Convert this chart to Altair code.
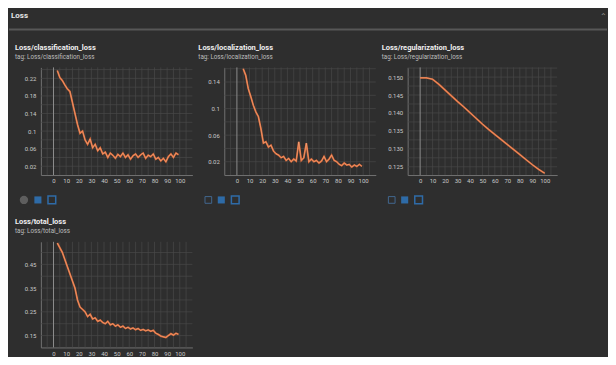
import altair as alt
import pandas as pd

# ---------------- data ----------------
cls_steps = [3, 5, 7, 9, 11, 13, 15, 17, 19, 21, 23, 25, 27, 29, 31, 33, 35, 37, 39, 41, 43, 45, 47, 49, 51,
             53, 55, 57, 59, 61, 63, 65, 67, 69, 71, 73, 75, 77, 79, 81, 83, 85, 87, 89, 91, 93, 95, 97, 99]
cls_loss = [0.238, 0.222, 0.215, 0.205, 0.196, 0.19, 0.165, 0.14, 0.115, 0.095, 0.1, 0.08, 0.07, 0.082, 0.062,
            0.07, 0.055, 0.062, 0.048, 0.052, 0.04, 0.05, 0.045, 0.038, 0.047, 0.042, 0.05, 0.04, 0.046, 0.036,
            0.044, 0.048, 0.04, 0.046, 0.05, 0.038, 0.045, 0.042, 0.048, 0.036, 0.04, 0.032, 0.038, 0.03, 0.042,
            0.048, 0.04, 0.05, 0.046]

loc_steps = [5, 7, 9, 11, 13, 15, 17, 19, 21, 23, 25, 27, 29, 31, 33, 35, 37, 39, 41, 43, 45, 47, 49, 51,
             53, 55, 57, 59, 61, 63, 65, 67, 69, 71, 73, 75, 77, 79, 81, 83, 85, 87, 89, 91, 93, 95, 97, 99]
loc_loss = [0.16, 0.15, 0.13, 0.118, 0.105, 0.095, 0.088, 0.07, 0.048, 0.05, 0.042, 0.045, 0.036, 0.032, 0.03,
            0.026, 0.028, 0.022, 0.025, 0.02, 0.024, 0.021, 0.05, 0.022, 0.026, 0.048, 0.02, 0.024, 0.02, 0.022,
            0.018, 0.021, 0.028, 0.02, 0.024, 0.03, 0.022, 0.02, 0.016, 0.014, 0.018, 0.015, 0.016, 0.012, 0.015,
            0.013, 0.016, 0.013]

reg_steps = [0, 5, 10, 15, 20, 25, 30, 35, 40, 45, 50, 55, 60, 65, 70, 75, 80, 85, 90, 95, 100]
reg_loss = [0.1498, 0.1498, 0.1494, 0.1480, 0.1464, 0.1448, 0.1432, 0.1417, 0.1401, 0.1385, 0.1369, 0.1354,
            0.1340, 0.1326, 0.1312, 0.1298, 0.1284, 0.1270, 0.1256, 0.1243, 0.1232]

tot_steps = cls_steps
tot_loss = [0.54, 0.52, 0.5, 0.47, 0.44, 0.41, 0.38, 0.35, 0.3, 0.27, 0.26, 0.25, 0.23, 0.24, 0.22, 0.225, 0.21,
            0.215, 0.205, 0.2, 0.21, 0.195, 0.2, 0.19, 0.195, 0.185, 0.19, 0.18, 0.185, 0.178, 0.182, 0.175, 0.18,
            0.172, 0.176, 0.17, 0.174, 0.168, 0.172, 0.16, 0.155, 0.148, 0.145, 0.142, 0.15, 0.158, 0.152, 0.16,
            0.155]

x_ticks = [0, 10, 20, 30, 40, 50, 60, 70, 80, 90, 100]
x_grid = [-5, 5, 10, 15, 20, 25, 30, 35, 40, 45, 50, 55, 60, 65, 70, 75, 80, 85, 90, 95, 100, 105]
cls_ticks = [0.02, 0.06, 0.1, 0.14, 0.18, 0.22]
cls_grid = [0.02, 0.04, 0.06, 0.08, 0.1, 0.12, 0.14, 0.16, 0.18, 0.2, 0.22, 0.24]
loc_ticks = [0.02, 0.06, 0.1, 0.14]
loc_grid = [0.02, 0.04, 0.06, 0.08, 0.1, 0.12, 0.14, 0.16]
reg_ticks = [0.125, 0.130, 0.135, 0.140, 0.145, 0.150]
reg_grid = [0.1250, 0.1275, 0.1300, 0.1325, 0.1350, 0.1375, 0.1400, 0.1425, 0.1450, 0.1475, 0.1500, 0.1525]
tot_ticks = [0.15, 0.25, 0.35, 0.45]
tot_grid = [0.15, 0.2, 0.25, 0.3, 0.35, 0.4, 0.45, 0.5]

BG = "#2e2e2e"
LINE = "#ee7038"
GRID = "#484848"
TXT = "#c8c8c8"
FONT = "Roboto"


def panel(steps, vals, ydom, yticks, ygrid, yfmt, w, h, title, icons=None, header=False, ty=-19):
    df = pd.DataFrame({"step": steps, "value": vals})
    xs = alt.Scale(domain=[-10, 110], nice=False, zero=False)
    ys = alt.Scale(domain=ydom, nice=False, zero=False)
    xax = alt.Axis(values=x_ticks, title=None, grid=False, labelFontSize=6, labelColor=TXT,
                   labelPadding=3, tickSize=0, labelOverlap=False, labelFlush=False,
                   domainColor="#707070", labelFont=FONT)
    yax = alt.Axis(values=yticks, title=None, grid=False, format=yfmt, labelFontSize=6,
                   labelColor=TXT, labelOverlap=False, labelFlush=False, labelPadding=5, tickSize=0,
                   domainColor="#707070", labelFont=FONT)
    X = alt.X("step:Q", scale=xs, axis=xax)
    Y = alt.Y("value:Q", scale=ys, axis=yax)
    base = alt.Chart(df)
    raw = base.mark_line(color=LINE, strokeWidth=1.8, opacity=0.9).encode(x=X, y=Y)
    hi = base.mark_line(color="#f9c2a2", strokeWidth=0.6, opacity=0.7).encode(x=X, y=Y)
    gx = alt.Chart(pd.DataFrame({"step": x_grid})).mark_rule(color=GRID, strokeWidth=0.7).encode(x=X)
    gy = alt.Chart(pd.DataFrame({"value": ygrid})).mark_rule(color=GRID, strokeWidth=0.7).encode(y=Y)
    zero = alt.Chart(pd.DataFrame({"step": [0]})).mark_rule(color="#8c8c8c", strokeWidth=1).encode(x=X)
    one = pd.DataFrame({"k": [0]})
    layers = []
    if header:
        # card header band, separator, "Loss" label, collapse icon
        layers.append(alt.Chart(one).mark_rect(color=BG).encode(
            x=alt.value(-32), x2=alt.value(568), y=alt.value(-59), y2=alt.value(-39)))
        layers.append(alt.Chart(one).mark_rule(color="#575757", strokeWidth=2).encode(
            x=alt.value(-32), x2=alt.value(568), y=alt.value(-38)))
        layers.append(alt.Chart(one).mark_text(align="left", baseline="middle", fontSize=8, font=FONT,
                                               fontWeight="bold", color="#e6e6e6").encode(
            text=alt.value("Loss"), x=alt.value(-30), y=alt.value(-52)))
        layers.append(alt.Chart(one).mark_text(align="center", baseline="middle", fontSize=8,
                                               color="#9a9a9a").encode(
            text=alt.value("⌃"), x=alt.value(564), y=alt.value(-51)))
    # panel title and tag line
    layers.append(alt.Chart(one).mark_text(align="left", baseline="middle", fontSize=7.5, font=FONT,
                                           fontWeight="bold", color="#f0f0f0").encode(
        text=alt.value(title), x=alt.value(-26), y=alt.value(ty)))
    layers.append(alt.Chart(one).mark_text(align="left", baseline="middle", fontSize=6.3, font=FONT,
                                           color="#bdbdbd").encode(
        text=alt.value("tag: " + title), x=alt.value(-26), y=alt.value(ty + 9)))
    layers += [gx, gy, zero, raw, hi]
    if icons == "circle":
        layers.append(alt.Chart(one).mark_circle(size=70, color="#6a6a6a", opacity=0.8).encode(
            x=alt.value(-17), y=alt.value(h + 25)))
    elif icons == "square":
        layers.append(alt.Chart(one).mark_square(size=45, filled=False, color="#4a7fb8",
                                                 strokeWidth=1).encode(
            x=alt.value(-16), y=alt.value(h + 25)))
    if icons:
        layers.append(alt.Chart(one).mark_square(size=50, color="#2f86dc").encode(
            x=alt.value(-3), y=alt.value(h + 25)))
        layers.append(alt.Chart(one).mark_square(size=60, filled=False, color="#2f86dc",
                                                 strokeWidth=1.5).encode(
            x=alt.value(11), y=alt.value(h + 25)))
    return alt.layer(*layers).properties(width=w, height=h)


p1 = panel(cls_steps, cls_loss, [0.0, 0.245], cls_ticks, cls_grid, ".2~f", 152, 108,
           "Loss/classification_loss", icons="circle", header=True)
p2 = panel(loc_steps, loc_loss, [0.0, 0.162], loc_ticks, loc_grid, ".2~f", 152, 108,
           "Loss/localization_loss", icons="square")
p3 = panel(reg_steps, reg_loss, [0.1227, 0.1527], reg_ticks, reg_grid, ".3f", 150, 108,
           "Loss/regularization_loss", icons="square")
p4 = panel(tot_steps, tot_loss, [0.10, 0.545], tot_ticks, tot_grid, ".2f", 152, 106,
           "Loss/total_loss", ty=-20)

chart = alt.concat(p1, p2, p3, p4, columns=3, spacing={"row": 67, "column": 32},
                   bounds="flush").properties(padding=0).configure(
    background=BG,
).configure_view(stroke=None)

chart.save("out.html", embed_options={"renderer": "svg", "actions": False})
